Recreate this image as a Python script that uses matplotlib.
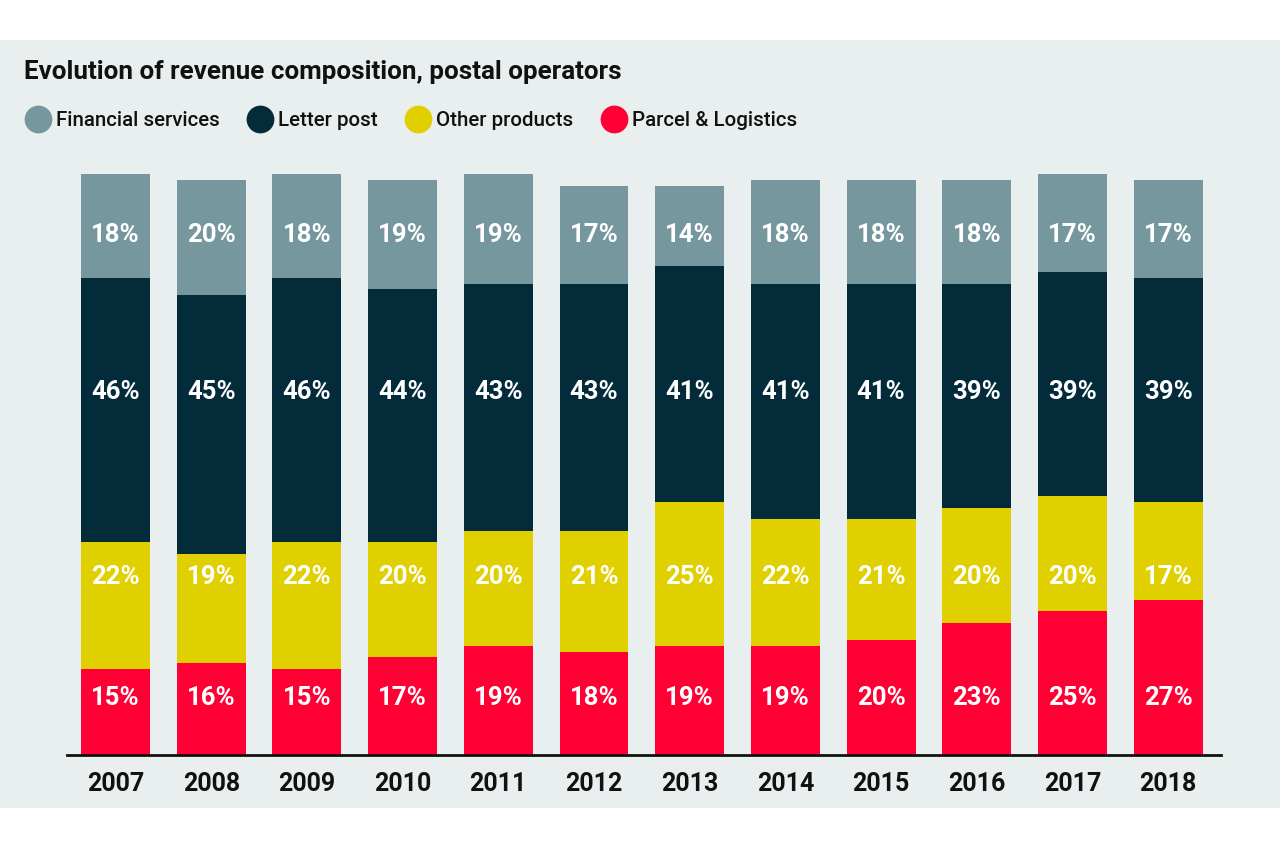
import matplotlib
matplotlib.use("Agg")
import matplotlib.pyplot as plt
from matplotlib import font_manager
from matplotlib.patches import Rectangle
from matplotlib.lines import Line2D
import numpy as np

years = ['2007', '2008', '2009', '2010', '2011', '2012',
         '2013', '2014', '2015', '2016', '2017', '2018']
parcel = [15, 16, 15, 17, 19, 18, 19, 19, 20, 23, 25, 27]
other = [22, 19, 22, 20, 20, 21, 25, 22, 21, 20, 20, 17]
letter = [46, 45, 46, 44, 43, 43, 41, 41, 41, 39, 39, 39]
financial = [18, 20, 18, 19, 19, 17, 14, 18, 18, 18, 17, 17]

series_names = ['Financial services', 'Letter post', 'Other products', 'Parcel & Logistics']
colors = {'Financial services': '#76979e',
          'Letter post': '#032b3a',
          'Other products': '#e1d000',
          'Parcel & Logistics': '#ff0035'}

installed = set(f.name for f in font_manager.fontManager.ttflist)
font = 'Roboto' if 'Roboto' in installed else 'DejaVu Sans'
plt.rcParams['font.family'] = [font, 'DejaVu Sans']

W, H = 1280, 848
PX = 5.75  # pixels per percentage point
fig = plt.figure(figsize=(W / 100, H / 100), dpi=100, facecolor='white')

# light grey panel behind everything
fig.patches.append(Rectangle((0, 1 - 808 / H), 1, (808 - 40) / H,
                             transform=fig.transFigure, facecolor='#e9efef',
                             edgecolor='none', zorder=-10))

ax = fig.add_axes([67 / W, 1 - 755 / H, (1221 - 67) / W, (755 - 165) / H])
ax.set_facecolor('none')

x = np.arange(len(years))
width = 0.72
bottom = np.zeros(len(years))
# labels sit on one row per series, not at segment centres
stack = [('Parcel & Logistics', parcel, 698), ('Other products', other, 577),
         ('Letter post', letter, 392), ('Financial services', financial, 235)]
for name, vals, label_px in stack:
    vals = np.array(vals)
    ax.bar(x, vals, width, bottom=bottom, color=colors[name], zorder=2)
    for xi, v in zip(x, vals):
        ax.text(xi, (755 - label_px) / PX, f'{v}%', ha='center', va='center',
                color='white', fontsize=18.5, fontweight='bold', zorder=3)
    bottom += vals

ax.set_xlim(-0.507, 11.552)
ax.set_ylim(0, (755 - 165) / PX)
ax.set_xticks(x)
ax.set_xticklabels(years, fontsize=18, fontweight='bold', color='#111111')
ax.tick_params(axis='x', length=0, pad=12)
ax.set_yticks([])
for s in ['top', 'right', 'left']:
    ax.spines[s].set_visible(False)
ax.spines['bottom'].set_color('#111111')
ax.spines['bottom'].set_linewidth(2)

fig.text(24 / W, 1 - 72 / H, 'Evolution of revenue composition, postal operators',
         fontsize=18.7, fontweight='bold', color='#111111', va='center', ha='left')

handles = [Line2D([], [], marker='o', linestyle='none', markersize=20,
                  markerfacecolor=colors[n], markeredgecolor='none') for n in series_names]
leg = fig.legend(handles, series_names, loc='center left',
                 bbox_to_anchor=(24 / W, 1 - 121 / H), ncol=4, frameon=False,
                 borderaxespad=0, borderpad=0,
                 handletextpad=0.2, columnspacing=1.3, handlelength=1.35,
                 prop={'size': 14.8, 'weight': 'medium'})
for t in leg.get_texts():
    t.set_color('#111111')

fig.savefig('out.png', dpi=100, facecolor='white')
